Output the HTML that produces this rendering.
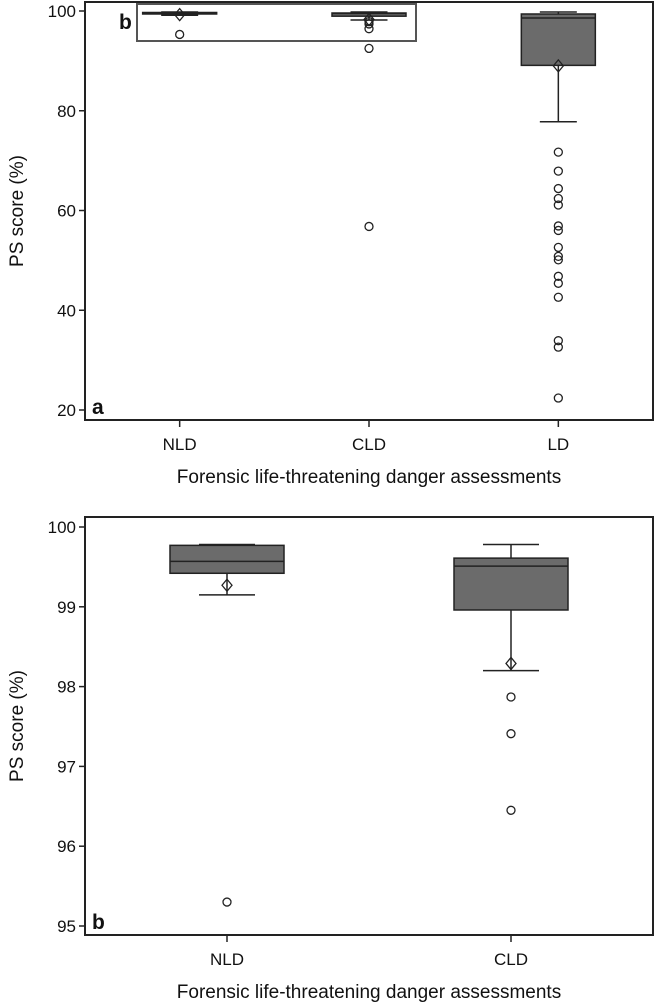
<!DOCTYPE html>
<html><head><meta charset="utf-8"><style>
html,body{margin:0;padding:0;background:#fff;}
svg{display:block;font-family:"Liberation Sans",Arial,sans-serif;}
</style></head><body>
<svg id="chart" width="657" height="1006" viewBox="0 0 657 1006" xmlns="http://www.w3.org/2000/svg"></svg>
<script>
// Panel a data
const catsA = ["NLD","CLD","LD"];
const ticksA = [20,40,60,80,100];
const whiskHiA = [99.8,99.8,99.8];
const q3A = [99.7,99.6,99.4];
const medA = [99.6,99.5,98.6];
const q1A = [99.4,98.96,89.1];
const whiskLoA = [99.15,98.2,77.8];
const meanA = [99.27,98.29,89.0];
const outA = [[95.3],[97.87,97.41,96.45,92.5,56.8],[71.7,67.9,64.4,62.4,61.1,56.9,56.0,52.6,50.8,50.1,46.8,45.4,42.6,33.9,32.6,22.4]];
// Panel b data
const catsB = ["NLD","CLD"];
const ticksB = [95,96,97,98,99,100];
const whiskHiB = [99.78,99.78];
const q3B = [99.77,99.61];
const medB = [99.57,99.51];
const q1B = [99.42,98.96];
const whiskLoB = [99.15,98.2];
const meanB = [99.27,98.29];
const outB = [[95.3],[97.87,97.41,96.45]];

const svg = document.getElementById('chart');
const NS = "http://www.w3.org/2000/svg";
function mk(tag, attrs, parent){
  const e = document.createElementNS(NS, tag);
  for (const k in attrs) e.setAttribute(k, attrs[k]);
  (parent||svg).appendChild(e);
  return e;
}

function panel(p){
  const g = mk('g', {});
  
  
  const L=85, R=653, T=p.top, B=p.bottom;
  const y = v => p.y0 + (v - p.v0) * (p.y1 - p.y0) / (p.v1 - p.v0);
  const n = p.cats.length;
  const x = i => L + (R-L)*(2*i+1)/(2*n);
  const frame = mk('rect', {x:L, y:T, width:R-L, height:B-T, fill:'none', stroke:'#222', 'stroke-width':2}, g);
  
  
  p.ticks.forEach(t => {
    mk('line', {x1:L-6, x2:L, y1:y(t), y2:y(t), stroke:'#222', 'stroke-width':1.5}, g);
    const tx = mk('text', {x:L-9, y:y(t)+6, 'text-anchor':'end', 'font-size':17, fill:'#111'}, g);
    tx.textContent = t;
    
    
  });
  p.cats.forEach((c,i) => {
    const cx = x(i);
    mk('line', {x1:cx, x2:cx, y1:B, y2:B+7, stroke:'#222', 'stroke-width':1.5}, g);
    const tx = mk('text', {x:cx, y:B+30, 'text-anchor':'middle', 'font-size':17, fill:'#111'}, g);
    tx.textContent = c;
    
    
    const bg = mk('g', {}, g);
    
    
    const hw = p.bw, cw = p.cw;
    mk('line', {x1:cx, x2:cx, y1:y(p.wh[i]), y2:y(p.q3[i]), stroke:'#222', 'stroke-width':1.5}, bg);
    mk('line', {x1:cx, x2:cx, y1:y(p.q1[i]), y2:y(p.wl[i]), stroke:'#222', 'stroke-width':1.5}, bg);
    mk('line', {x1:cx-cw, x2:cx+cw, y1:y(p.wh[i]), y2:y(p.wh[i]), stroke:'#222', 'stroke-width':1.5}, bg);
    mk('line', {x1:cx-cw, x2:cx+cw, y1:y(p.wl[i]), y2:y(p.wl[i]), stroke:'#222', 'stroke-width':1.5}, bg);
    const h = Math.max(1.5, y(p.q1[i]) - y(p.q3[i]));
    mk('rect', {x:cx-hw, y:y(p.q3[i]), width:2*hw, height:h, fill:'#6b6b6b', stroke:'#222', 'stroke-width':1.5}, bg);
    mk('line', {x1:cx-hw, x2:cx+hw, y1:y(p.med[i]), y2:y(p.med[i]), stroke:'#222', 'stroke-width':1.5}, bg);
    const my = y(p.mean[i]);
    const d = mk('path', {d:`M${cx} ${my-6}L${cx+5} ${my}L${cx} ${my+6}L${cx-5} ${my}Z`, fill:'none', stroke:'#222', 'stroke-width':1.3}, bg);
    
    
    p.out[i].forEach(v => {
      const o = mk('circle', {cx:cx, cy:y(v), r:4, fill:'none', stroke:'#222', 'stroke-width':1.3}, bg);
      
      
    });
  });
  const yl = mk('text', {x:0, y:0, transform:`translate(23,${(T+B)/2}) rotate(-90)`, 'text-anchor':'middle', 'font-size':19, fill:'#111'}, g);
  yl.textContent = 'PS score (%)';
  
  
  const xl = mk('text', {x:(L+R)/2, y:B+63, 'text-anchor':'middle', 'font-size':19, fill:'#111'}, g);
  xl.textContent = 'Forensic life-threatening danger assessments';
  
  
  const pl = mk('text', {x:L+7, y:B-6, 'font-size':21, 'font-weight':'bold', fill:'#111'}, g);
  pl.textContent = p.label;
  
  
  return g;
}

panel({name:'panel-a', label:'a', top:2, bottom:420, v0:100, y0:11, v1:20, y1:410,
  cats:catsA, ticks:ticksA, wh:whiskHiA, q3:q3A, med:medA, q1:q1A, wl:whiskLoA, mean:meanA, out:outA, bw:37, cw:18.5});
panel({name:'panel-b', label:'b', top:517, bottom:935, v0:100, y0:527, v1:95, y1:926,
  cats:catsB, ticks:ticksB, wh:whiskHiB, q3:q3B, med:medB, q1:q1B, wl:whiskLoB, mean:meanB, out:outB, bw:57, cw:28});

// inset highlight on panel a
const inset = mk('rect', {x:137, y:4, width:279, height:37, fill:'none', stroke:'#555', 'stroke-width':2});


const il = mk('text', {x:119, y:29, 'font-size':21, 'font-weight':'bold', fill:'#111'});
il.textContent = 'b';


</script>
</body></html>
